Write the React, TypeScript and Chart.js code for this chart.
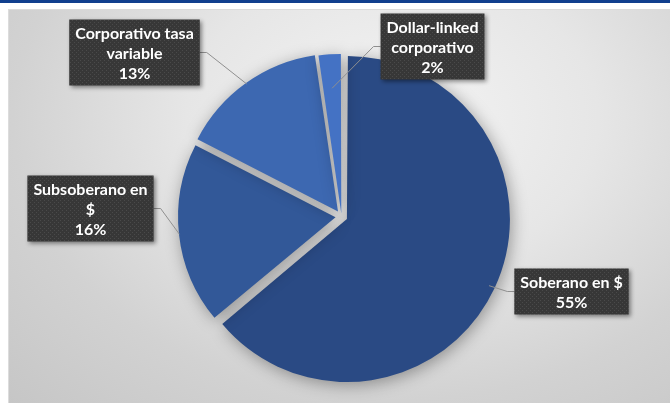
import React, { useEffect, useRef } from "react";
import { Chart, registerables } from "chart.js";

Chart.register(...registerables);

// ---- data ----
const categories = [
  "Soberano en $",
  "Subsoberano en $",
  "Corporativo tasa variable",
  "Dollar-linked corporativo",
];
const shares = [55, 16, 13, 2];

// ---- styling / layout ----
const sliceColors = ["#2a4a84", "#325898", "#3d68b1", "#4472c4"];
const sliceOffsets = [24, 24, 24, 12];
const labelDx = [230, -251, -207, 91]; // box centre offset from pie centre
const labelDy = [75, -8, -164, -170];
const wordsPerLine = [3, 2, 2, 1];
const leaderReach = [1, 1, 1, 0.8];
const FONT = "bold 16px Lato, 'Open Sans', sans-serif";
const LINE_H = 20;

function makePattern(ctx: CanvasRenderingContext2D) {
  const c = document.createElement("canvas");
  c.width = 4;
  c.height = 4;
  const p = c.getContext("2d")!;
  p.fillStyle = "#373737";
  p.fillRect(0, 0, 4, 4);
  p.fillStyle = "#4a4a4a";
  p.fillRect(0, 0, 1, 1);
  p.fillRect(2, 2, 1, 1);
  return ctx.createPattern(c, "repeat");
}

const labelPlugin = {
  id: "boxLabels",
  beforeDatasetsDraw(chart: any) {
    const ctx = chart.ctx as CanvasRenderingContext2D;
    ctx.save();
    ctx.shadowColor = "rgba(0,0,0,0.35)";
    ctx.shadowBlur = 16;
    ctx.shadowOffsetX = 2;
    ctx.shadowOffsetY = 3;
  },
  afterDatasetsDraw(chart: any) {
    const ctx = chart.ctx as CanvasRenderingContext2D;
    ctx.restore();
    const meta = chart.getDatasetMeta(0);
    const pattern = makePattern(ctx);
    meta.data.forEach((arc: any, i: number) => {
      const { x, y, startAngle, endAngle, outerRadius } = arc.getProps(
        ["x", "y", "startAngle", "endAngle", "outerRadius"],
        true
      );
      const mid = (startAngle + endAngle) / 2;
      const shift = (arc.options.offset || 0) / 4;
      const r = outerRadius * leaderReach[i] + shift;
      const ax = x + Math.cos(mid) * r;
      const ay = y + Math.sin(mid) * r;

      ctx.save();
      ctx.font = FONT;
      const words = categories[i].split(" ");
      const lines: string[] = [];
      for (let k = 0; k < words.length; k += wordsPerLine[i]) {
        lines.push(words.slice(k, k + wordsPerLine[i]).join(" "));
      }
      lines.push(`${shares[i]}%`);
      const w = Math.max(...lines.map((l) => ctx.measureText(l).width)) + 12;
      const h = lines.length * LINE_H + 6;
      const cx = x + labelDx[i];
      const cy = y + labelDy[i];
      const bx = cx - w / 2;
      const by = cy - h / 2;

      const left = ax < cx;
      const side = left ? bx : bx + w;
      const stub = left ? side - 7 : side + 7;
      ctx.beginPath();
      ctx.moveTo(ax, ay);
      ctx.lineTo(stub, cy);
      ctx.lineTo(side, cy);
      ctx.strokeStyle = "#8f8f8f";
      ctx.lineWidth = 1;
      ctx.stroke();

      ctx.save();
      ctx.shadowColor = "rgba(0,0,0,0.45)";
      ctx.shadowBlur = 4;
      ctx.shadowOffsetX = 2;
      ctx.shadowOffsetY = 2;
      ctx.fillStyle = pattern || "#3b3b3b";
      ctx.fillRect(bx, by, w, h);
      ctx.restore();

      ctx.fillStyle = "#ffffff";
      ctx.textAlign = "center";
      ctx.textBaseline = "middle";
      lines.forEach((l, k) => ctx.fillText(l, cx, by + 3 + LINE_H * (k + 0.5) + 1));
      ctx.restore();
    });
  },
};

export default function App() {
  const ref = useRef<HTMLCanvasElement>(null);
  useEffect(() => {
    if (!ref.current) return;
    const chart = new Chart(ref.current, {
      type: "pie",
      data: {
        labels: categories,
        datasets: [
          {
            data: shares,
            backgroundColor: sliceColors,
            borderWidth: 0,
            offset: sliceOffsets,
            hoverOffset: 0,
            radius: 157,
            clip: false,
          } as any,
        ],
      },
      options: {
        animation: false,
        responsive: false,
        events: [],
        layout: { padding: { left: 13, right: 0, top: 30, bottom: 0 } },
        plugins: {
          legend: { display: false },
          tooltip: { enabled: false },
        },
      },
      plugins: [labelPlugin],
    });
    return () => chart.destroy();
  }, []);

  return (
    <div
      style={{
        position: "absolute",
        left: 0,
        top: 0,
        width: 670,
        height: 403,
        background: "#ffffff",
        overflow: "hidden",
      }}
    >
      <div
        style={{
          position: "absolute",
          left: 0,
          top: 0,
          width: 670,
          height: 3,
          background: "#113f8e",
        }}
      />
      <div
        style={{
          position: "absolute",
          left: 8,
          top: 9,
          width: 662,
          height: 394,
          background:
            "radial-gradient(ellipse at 58% 28%, #f4f4f4 0%, #e6e6e6 38%, #d2d2d2 70%, #c6c6c6 100%)",
          borderTop: "1px solid #dcdcdc",
          borderLeft: "1px solid #dcdcdc",
          boxSizing: "border-box",
        }}
      />
      <canvas
        ref={ref}
        width={670}
        height={403}
        style={{ position: "absolute", left: 0, top: 0, width: 670, height: 403 }}
      />
    </div>
  );
}
